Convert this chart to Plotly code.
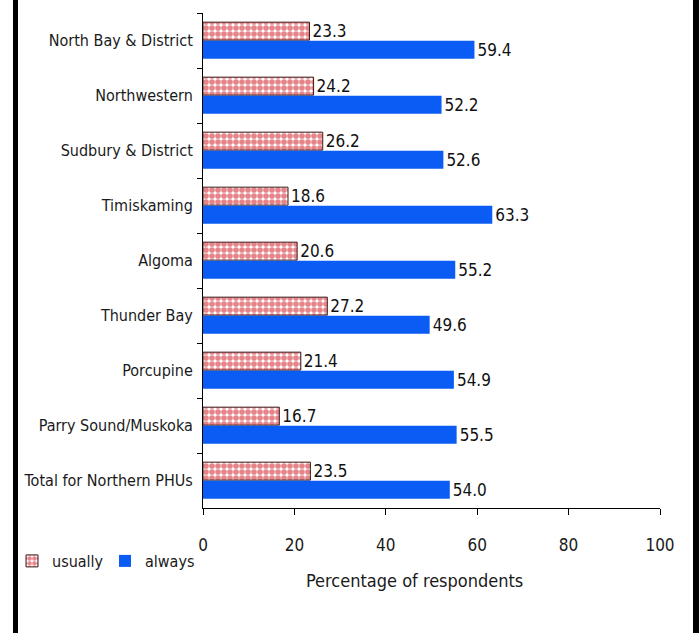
import plotly.graph_objects as go

regions = [
    "North Bay & District",
    "Northwestern",
    "Sudbury & District",
    "Timiskaming",
    "Algoma",
    "Thunder Bay",
    "Porcupine",
    "Parry Sound/Muskoka",
    "Total for Northern PHUs",
]
usually = [23.3, 24.2, 26.2, 18.6, 20.6, 27.2, 21.4, 16.7, 23.5]
always = [59.4, 52.2, 52.6, 63.3, 55.2, 49.6, 54.9, 55.5, 54.0]
x_ticks = [0, 20, 40, 60, 80, 100]

FONT = "DejaVu Sans Condensed, Liberation Sans Narrow, sans-serif"
W, H = 699, 633
L, R, T, B = 203, 39, 13, 125
pw, ph = W - L - R, H - T - B


def px_x(p):
    return (p - L) / pw


def px_y(p):
    return (H - B - p) / ph


label_font = dict(family=FONT, size=17, color="#111")

fig = go.Figure()
fig.add_trace(go.Bar(
    name="usually", y=regions, x=usually, orientation="h",
    marker=dict(color="white", line=dict(color="#3a1a1a", width=1),
                pattern=dict(shape=".", fgcolor="#cc0a14", bgcolor="white",
                             size=6, solidity=0.7)),
    text=usually, texttemplate="%{x:.1f}", textposition="outside",
    constraintext="none", textfont=label_font, cliponaxis=False,
))
fig.add_trace(go.Bar(
    name="always", y=regions, x=always, orientation="h",
    marker=dict(color="#0a5cf5", line=dict(width=0)),
    text=always, texttemplate="%{x:.1f}", textposition="outside",
    constraintext="none", textfont=label_font, cliponaxis=False,
))

fig.update_layout(
    width=W, height=H,
    margin=dict(l=L, r=R, t=T, b=B),
    paper_bgcolor="white", plot_bgcolor="white",
    barmode="group", bargap=0.32, bargroupgap=0.04,
    font=dict(family=FONT, size=16, color="#1a1a1a"),
    showlegend=True,
    legend=dict(orientation="h", x=px_x(12), y=px_y(561), xanchor="left",
                yanchor="middle", font=dict(family=FONT, size=16),
                itemwidth=30, entrywidth=48, tracegroupgap=0,
                bgcolor="rgba(0,0,0,0)"),
    xaxis=dict(range=[0, 100], tickvals=x_ticks, showgrid=False, zeroline=False,
               showline=True, linecolor="black", linewidth=1,
               ticks="outside", ticklen=6, tickcolor="black",
               ticklabelstandoff=16, tickfont=dict(size=17)),
    yaxis=dict(autorange="reversed", showgrid=False, showline=True,
               linecolor="black", linewidth=1, ticks="outside", ticklen=5,
               tickcolor="black", tickson="boundaries", ticklabelstandoff=6,
               tickfont=dict(size=16)),
    annotations=[dict(text="Percentage of respondents", xref="paper", yref="paper",
                      x=px_x(414), y=px_y(580), xanchor="center", yanchor="middle",
                      showarrow=False, font=dict(family=FONT, size=18))],
    shapes=[
        dict(type="rect", xref="paper", yref="paper", x0=px_x(13), x1=px_x(18),
             y0=px_y(633), y1=px_y(0), fillcolor="black", line=dict(width=0), layer="above"),
        dict(type="rect", xref="paper", yref="paper", x0=px_x(693), x1=px_x(699),
             y0=px_y(633), y1=px_y(0), fillcolor="black", line=dict(width=0), layer="above"),
    ],
)

fig.write_html("out.html")
